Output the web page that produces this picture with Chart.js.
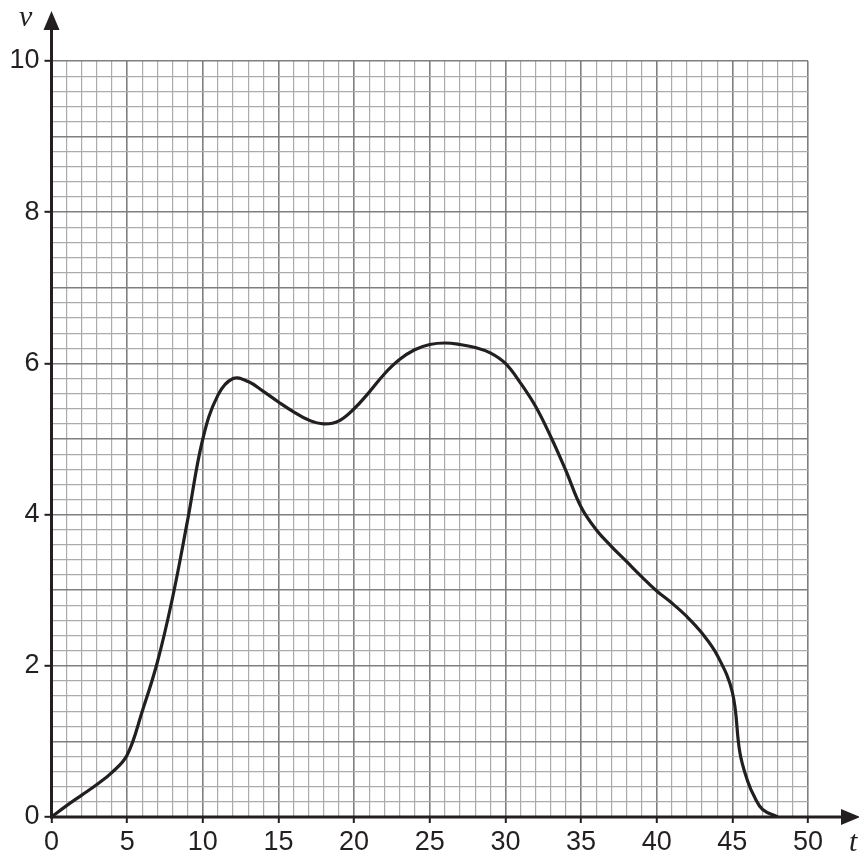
<!DOCTYPE html>
<html>
<head>
<meta charset="utf-8">
<script src="https://cdn.jsdelivr.net/npm/chart.js@4.4.0/dist/chart.umd.min.js"></script>
<style>
  html, body { margin: 0; padding: 0; background: #fff; }
  #wrap { width: 859px; height: 853px; position: relative; }
</style>
</head>
<body>
<div id="wrap"><canvas id="graph"></canvas></div>
<script>
// ---------- Data ----------
const tValues = [0, 1, 2, 3, 4, 5, 6, 7, 8, 9, 10, 11, 12, 13, 14, 15, 16, 17, 18, 19, 20,
  21, 22, 23, 24, 25, 26, 27, 28, 29, 30, 31, 32, 33, 34, 35, 36, 37, 38, 39, 40,
  41, 42, 43, 44, 45, 45.5, 46, 46.5, 47, 48];
const vValues = [0, 0.15, 0.29, 0.43, 0.59, 0.82, 1.4, 2.05, 2.9, 3.93, 5.0, 5.58, 5.8, 5.76, 5.63, 5.49, 5.36, 5.25, 5.2, 5.24, 5.4,
  5.62, 5.86, 6.05, 6.18, 6.25, 6.27, 6.25, 6.21, 6.14, 6.0, 5.74, 5.43, 5.03, 4.58, 4.1, 3.8, 3.58, 3.38, 3.18, 2.99,
  2.83, 2.65, 2.43, 2.14, 1.65, 0.85, 0.48, 0.25, 0.1, 0];
const tTickLabels = [0, 5, 10, 15, 20, 25, 30, 35, 40, 45, 50];
const vTickLabels = [0, 2, 4, 6, 8, 10];

const ink = '#231f20';
const minorGrid = '#ababab';
const majorGrid = '#7f7f7f';
const isWhole = (v) => Math.abs(v - Math.round(v)) < 1e-6;

// ---------- Axes with arrows, drawn over the grid ----------
const axesPlugin = {
  id: 'axesArrows',
  afterDraw(chart) {
    const { ctx, scales: { x, y } } = chart;
    const x0 = x.getPixelForValue(0);
    const y0 = y.getPixelForValue(0);
    ctx.save();
    ctx.strokeStyle = ink;
    ctx.fillStyle = ink;
    ctx.lineWidth = 3;
    ctx.lineCap = 'butt';

    // vertical axis
    ctx.beginPath();
    ctx.moveTo(x0, y0 + 1.5);
    ctx.lineTo(x0, 26);
    ctx.stroke();
    ctx.beginPath();
    ctx.moveTo(x0, 11);
    ctx.lineTo(x0 - 8, 30);
    ctx.lineTo(x0 + 8, 30);
    ctx.closePath();
    ctx.fill();

    // horizontal axis
    ctx.beginPath();
    ctx.moveTo(x0 - 1.5, y0);
    ctx.lineTo(846, y0);
    ctx.stroke();
    ctx.beginPath();
    ctx.moveTo(860, y0);
    ctx.lineTo(841, y0 - 8);
    ctx.lineTo(841, y0 + 8);
    ctx.closePath();
    ctx.fill();

    // axis names
    ctx.font = 'italic 30px "Liberation Serif", "DejaVu Serif", serif';
    ctx.textBaseline = 'alphabetic';
    ctx.textAlign = 'left';
    ctx.fillText('v', 19, 26);
    ctx.fillText('t', 849, 851);
    ctx.restore();
  }
};

// ---------- Chart ----------
const ctx = document.getElementById('graph').getContext('2d');
const chart = new Chart(ctx, {
  type: 'scatter',
  data: {
    datasets: [{
      data: tValues.map((t, i) => ({ x: t, y: vValues[i] })),
      showLine: true,
      borderColor: ink,
      borderWidth: 3.2,
      pointRadius: 0,
      fill: false,
      tension: 0.4
    }]
  },
  options: {
    responsive: true,
    maintainAspectRatio: false,
    animation: false,
    layout: { padding: { top: 61, right: 51, left: 0, bottom: 0 } },
    plugins: { legend: { display: false }, tooltip: { enabled: false } },
    scales: {
      x: {
        type: 'linear',
        min: 0,
        max: 50,
        afterFit: (s) => { s.height = 36; },
        border: { display: false },
        grid: {
          color: (c) => (c.tick && c.tick.value % 5 === 0) ? majorGrid : minorGrid,
          lineWidth: (c) => (c.tick && c.tick.value % 5 === 0) ? 1.6 : 1.2,
          tickLength: 6,
          tickWidth: 2,
          tickColor: (c) => (c.tick && tTickLabels.includes(c.tick.value)) ? ink : 'rgba(0,0,0,0)'
        },
        ticks: {
          stepSize: 1,
          autoSkip: false,
          maxRotation: 0,
          padding: 3,
          color: ink,
          font: { family: '"Liberation Sans", Arial, sans-serif', size: 27 },
          callback: (v) => tTickLabels.includes(v) ? String(v) : ''
        }
      },
      y: {
        type: 'linear',
        min: 0,
        max: 10,
        afterFit: (s) => { s.width = 51.5; },
        border: { display: false },
        grid: {
          color: (c) => (c.tick && isWhole(c.tick.value)) ? majorGrid : minorGrid,
          lineWidth: (c) => (c.tick && isWhole(c.tick.value)) ? 1.6 : 1.2,
          tickLength: 7,
          tickWidth: 2,
          tickColor: (c) => (c.tick && isWhole(c.tick.value) && vTickLabels.includes(Math.round(c.tick.value))) ? ink : 'rgba(0,0,0,0)'
        },
        ticks: {
          stepSize: 0.2,
          autoSkip: false,
          padding: 5,
          color: ink,
          font: { family: '"Liberation Sans", Arial, sans-serif', size: 27 },
          callback: (v) => (isWhole(v) && vTickLabels.includes(Math.round(v))) ? String(Math.round(v)) : ''
        }
      }
    }
  },
  plugins: [axesPlugin]
});
</script>
</body>
</html>
